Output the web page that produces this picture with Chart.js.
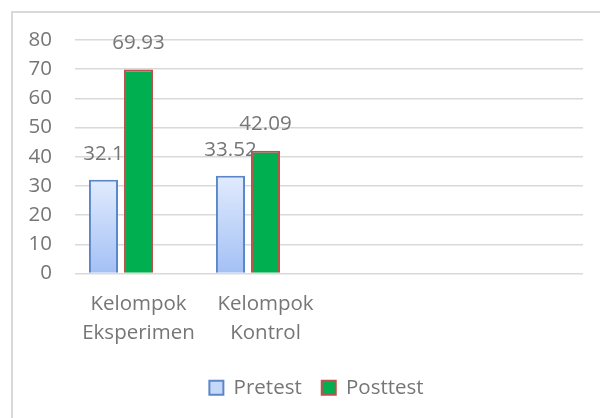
<!DOCTYPE html>
<html>
<head>
<meta charset="utf-8">
<script src="https://cdn.jsdelivr.net/npm/chart.js@4"></script>
<style>
  body { margin: 0; background: #fff; }
  #wrap { position: relative; width: 600px; height: 418px; overflow: hidden; }
  #frame { position: absolute; left: 11px; top: 11px; width: 620px; height: 440px;
           border-left: 2px solid #d9d9d9; border-top: 2px solid #d9d9d9; }
  canvas { position: absolute; left: 0; top: 0; }
</style>
</head>
<body>
<div id="wrap">
  <div id="frame"></div>
  <canvas id="myChart" width="600" height="418"></canvas>
</div>
<script>
// data
const categories = [["Kelompok", "Eksperimen"], ["Kelompok", "Kontrol"], "", ""];
const pretest = [32.1, 33.52, null, null];
const posttest = [69.93, 42.09, null, null];
// the original sheet leaves a third, empty series slot in every group
const emptySeries = [null, null, null, null];
const yTicks = [0, 10, 20, 30, 40, 50, 60, 70, 80];

const textColor = "#767676";
const fontFamily = "'Open Sans', sans-serif";

const canvasElement = document.getElementById('myChart');

// per bar gradient for the pretest bars
function pretestFill(c) {
    const chart = c.chart;
    if (!chart.chartArea || c.raw == null) return "#c9dafa";
    const y = chart.scales.y;
    const g = chart.ctx.createLinearGradient(0, y.getPixelForValue(c.raw), 0, y.getPixelForValue(0));
    g.addColorStop(0, "#e1ebfd");
    g.addColorStop(1, "#a3c0f5");
    return g;
}

// value labels above each bar
const valueLabels = {
    id: "valueLabels",
    afterDatasetsDraw(chart) {
        const ctx = chart.ctx;
        ctx.save();
        ctx.font = "20.5px " + fontFamily;
        ctx.fillStyle = textColor;
        ctx.textAlign = "center";
        ctx.textBaseline = "middle";
        chart.data.datasets.forEach(function(ds, i) {
            chart.getDatasetMeta(i).data.forEach(function(bar, j) {
                if (ds.data[j] == null) return;
                ctx.fillText(String(ds.data[j]), bar.x, bar.y - 26);
            });
        });
        ctx.restore();
    }
};

// legend in the original sits a bit right of the canvas centre
const legendShift = {
    id: "legendShift",
    afterLayout(chart) {
        if (!chart.legend) return;
        chart.legend.left += 25;
        chart.legend.right += 25;
    }
};

const barSizing = { categoryPercentage: 0.827, barPercentage: 0.83 };

const config = {
    type: "bar",
    data: {
        labels: categories,
        datasets: [
            Object.assign({
                label: "Pretest",
                data: pretest,
                backgroundColor: pretestFill,
                borderColor: "#5b87c9",
                borderWidth: 2,
            }, barSizing),
            Object.assign({
                label: "Posttest",
                data: posttest,
                backgroundColor: "#00b050",
                borderColor: "#c0504d",
                borderWidth: 2,
            }, barSizing),
            Object.assign({
                label: "",
                data: emptySeries,
                backgroundColor: "transparent",
            }, barSizing),
        ],
    },
    options: {
        responsive: false,
        animation: false,
        devicePixelRatio: 1,
        layout: { padding: { top: 40, right: 17, bottom: 10, left: 0 } },
        scales: {
            x: {
                grid: { display: false },
                border: { display: false },
                ticks: {
                    color: textColor,
                    font: { family: fontFamily, size: 20.5, lineHeight: 1.42 },
                    padding: 8,
                    maxRotation: 0,
                    autoSkip: false,
                },
                afterFit(scale) { scale.height = 84; },
            },
            y: {
                min: 0,
                max: 80,
                grid: { color: "#d9d9d9", lineWidth: 1.5, drawTicks: false },
                border: { display: false },
                afterBuildTicks(scale) { scale.ticks = yTicks.map(v => ({ value: v })); },
                ticks: {
                    color: textColor,
                    font: { family: fontFamily, size: 20.5 },
                    padding: 23,
                },
                afterFit(scale) { scale.width = 75; },
            },
        },
        plugins: {
            tooltip: { enabled: false },
            legend: {
                position: "bottom",
                labels: {
                    color: textColor,
                    font: { family: fontFamily, size: 20.5 },
                    boxWidth: 14,
                    boxHeight: 14,
                    padding: 20,
                    filter: (item) => item.text !== "",
                    generateLabels(chart) {
                        const items = Chart.defaults.plugins.legend.labels.generateLabels(chart);
                        items[0].fillStyle = "#c6d8f8";
                        items[0].strokeStyle = "#5b87c9";
                        items[1].fillStyle = "#00b050";
                        items[1].strokeStyle = "#c0504d";
                        items.forEach(it => { it.lineWidth = 2; });
                        return items;
                    },
                },
            },
        },
    },
    plugins: [valueLabels, legendShift],
};

const myChart = new Chart(canvasElement, config);
</script>
</body>
</html>
